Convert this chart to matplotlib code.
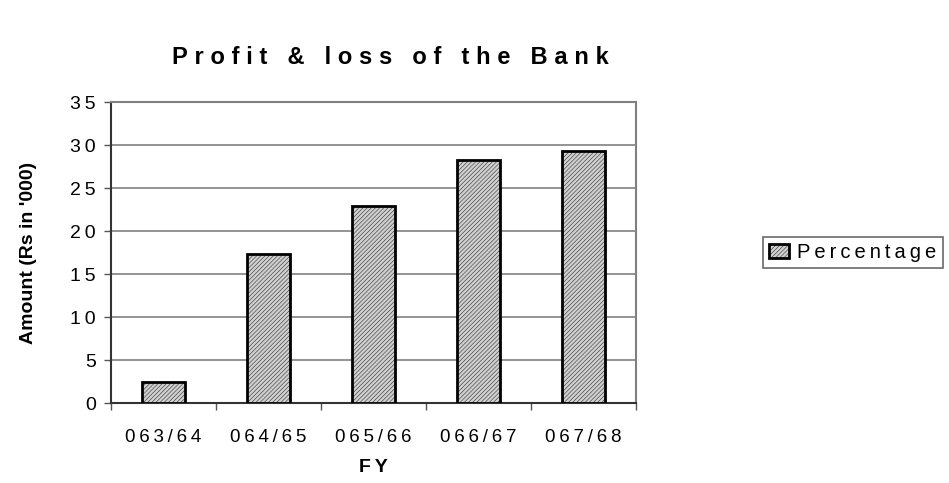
import matplotlib
matplotlib.use("Agg")
import matplotlib.pyplot as plt
from matplotlib.patches import Patch

plt.rcParams['font.family'] = ['Liberation Sans', 'DejaVu Sans']
plt.rcParams['hatch.linewidth'] = 0.3
plt.rcParams['hatch.color'] = '#999999'

years = ["063/64", "064/65", "065/66", "066/67", "067/68"]
values = [2.5, 17.3, 22.9, 28.3, 29.3]
yticks = [0, 5, 10, 15, 20, 25, 30, 35]
series_name = "Percentage"
title = "Profit & loss of the Bank"
xlabel = "FY"
ylabel = "Amount (Rs in '000)"


def spaced(s, gap="\u2009"):
    # widen the tracking by putting a narrow space between letters
    return gap.join(s)


fig = plt.figure(figsize=(9.49, 4.83), dpi=100)
ax = fig.add_axes([0.117, 0.1656, 0.553, 0.6232])

xs = list(range(len(years)))
ax.bar(xs, values, width=0.41, color='#cfcfcf', edgecolor='black',
       linewidth=2, hatch='////////', zorder=3)

ax.set_xlim(-0.5, len(years) - 0.5)
ax.set_ylim(0, 35)
ax.set_yticks(yticks)
ax.set_yticklabels([spaced(str(t)) for t in yticks], fontsize=14)
ax.yaxis.grid(True, color='#808080', linewidth=1.2, zorder=0)

# category labels sit between the boundary ticks
ax.set_xticks([x - 0.5 for x in xs] + [len(years) - 0.5])
ax.set_xticklabels([])
ax.set_xticks(xs, minor=True)
ax.set_xticklabels([spaced(y) for y in years], minor=True, fontsize=13.5)
ax.tick_params(axis='x', which='minor', length=0, pad=19)
ax.tick_params(axis='x', which='major', length=5, width=1, color='#555555')
ax.tick_params(axis='y', length=5, width=1, color='#555555', pad=6)

for side in ('left', 'bottom'):
    ax.spines[side].set_color('#333333')
    ax.spines[side].set_linewidth(1.5)
for side in ('top', 'right'):
    ax.spines[side].set_color('#808080')
    ax.spines[side].set_linewidth(1.5)

ax.set_xlabel(spaced(xlabel), fontsize=14, fontweight='bold', labelpad=9)
ax.set_ylabel(ylabel, fontsize=14, fontweight='bold', labelpad=24)

fig.text(0.411, 0.88, spaced(title, "\u2009\u200a"), ha='center',
         va='center', fontsize=17, fontweight='bold')

handle = Patch(facecolor='#cfcfcf', edgecolor='black', linewidth=2,
               hatch='////////')
leg = fig.legend([handle], [spaced(series_name)], loc='upper left',
                 bbox_to_anchor=(763 / 949, 1 - 237 / 483),
                 fontsize=14.5, frameon=True, fancybox=False,
                 handlelength=1.0, handleheight=0.75, handletextpad=0.4,
                 borderpad=0.3, borderaxespad=0)
leg.get_frame().set_edgecolor('#444444')
leg.get_frame().set_linewidth(1.2)

fig.savefig("out.png", dpi=100)
